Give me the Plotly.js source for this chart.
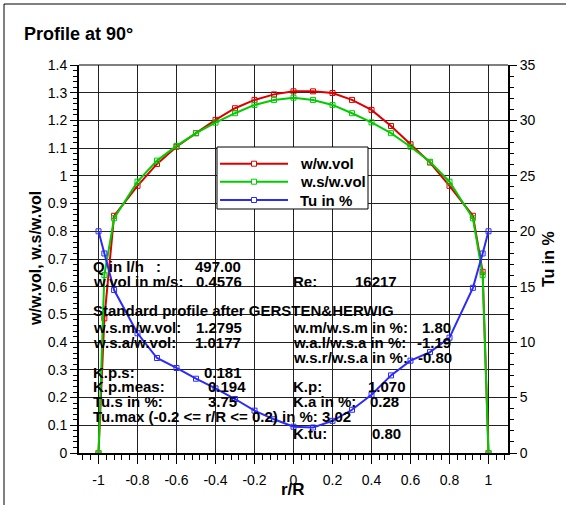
<!DOCTYPE html>
<html>
<head>
<meta charset="utf-8">
<script src="https://cdn.plot.ly/plotly-3.0.1.min.js"></script>
<style>html,body{margin:0;padding:0;background:#fff;}#chart{width:566px;height:505px;}</style>
</head>
<body>
<div id="chart"></div>
<script>
// ---- data ----
const rR = [-1, -0.97, -0.92, -0.8, -0.7, -0.6, -0.5, -0.4, -0.3, -0.2, -0.1, 0, 0.1, 0.2, 0.3, 0.4, 0.5, 0.6, 0.7, 0.8, 0.92, 0.97, 1];
const wOverWvol = [0, 0.486, 0.856, 0.964, 1.043, 1.105, 1.154, 1.202, 1.244, 1.274, 1.294, 1.305, 1.305, 1.299, 1.274, 1.238, 1.180, 1.114, 1.048, 0.964, 0.856, 0.654, 0];
const wsOverWvol = [0, 0.642, 0.847, 0.979, 1.055, 1.108, 1.154, 1.192, 1.226, 1.256, 1.274, 1.282, 1.274, 1.256, 1.226, 1.193, 1.154, 1.105, 1.051, 0.979, 0.847, 0.642, 0];
const tuPercent = [20.0, 18.0, 14.7, 10.8, 8.57, 7.67, 6.7, 5.83, 4.87, 3.82, 3.04, 2.37, 2.3, 2.9, 3.9, 5.26, 7.0, 8.33, 9.1, 10.4, 14.9, 18.0, 20.0];
const seriesNames = ["w/w.vol", "w.s/w.vol", "Tu in %"];
const seriesColors = ["#dd0000", "#00cc00", "#2a2aff"];
const xTickVals = [-1, -0.8, -0.6, -0.4, -0.2, 0, 0.2, 0.4, 0.6, 0.8, 1];
const xTickText = ["-1", "-0.8", "-0.6", "-0.4", "-0.2", "0", "0.2", "0.4", "0.6", "0.8", "1"];
const textLabels = [
  "Q in l/h", ":", "w.vol in m/s:", "Re:", "Standard profile after GERSTEN&HERWIG",
  "w.s.m/w.vol:", "w.m/w.s.m in %:", "w.s.a/w.vol:", "w.a.l/w.s.a in %:", "w.s.r/w.s.a in %:",
  "K.p.s:", "K.p.meas:", "K.p:", "Tu.s in %:", "K.a in %:", "Tu.max (-0.2 <= r/R <= 0.2) in %: 3.02", "K.tu:"
];
const textValues = ["497.00", "0.4576", "16217", "1.2795", "1.80", "1.0177", "-1.19", "-0.80",
  "0.181", "0.194", "1.070", "3.75", "0.28", "0.80"];

// ---- layout geometry (pixels of the 566x505 picture) ----
const L = 79, R = 508, T = 65, B = 453;
const px = v => (v - L) / (R - L);
const py = v => (B - v) / (B - T);
const FONT = "Liberation Sans, Arial, Helvetica, sans-serif";

const labelPos = [
  [91.7, 266.7], [155, 266.7], [91.7, 281.7], [291.7, 281.7], [91.7, 310],
  [91.7, 327.7], [291.7, 327.7], [91.7, 342.3], [291.7, 342.3], [291.7, 357.3],
  [91.7, 372.7], [91.7, 386.7], [291.7, 386.7], [91.7, 401.7], [291.7, 401.7], [91.7, 416.7], [291.7, 433.3]
];
const valuePos = [
  [242, 266.7], [243, 281.7], [398, 281.7], [243, 327.7], [451.7, 327.7], [242, 342.3], [451.7, 342.3], [453, 357.3],
  [243, 372.7], [246.7, 386.7], [406.7, 386.7], [238, 401.7], [400, 401.7], [401.7, 433.3]
];

const annFont = {family: FONT, size: 15, color: "#000", weight: "bold"};
const annotations = [];
textLabels.forEach((t, i) => annotations.push({
  text: t, xref: "paper", yref: "paper", x: px(labelPos[i][0]), y: py(labelPos[i][1]),
  xanchor: "left", yanchor: "middle", showarrow: false, font: annFont, borderpad: 0
}));
textValues.forEach((t, i) => annotations.push({
  text: t, xref: "paper", yref: "paper", x: px(valuePos[i][0]), y: py(valuePos[i][1]),
  xanchor: "right", yanchor: "middle", showarrow: false, font: annFont, borderpad: 0
}));
// axis titles
annotations.push({text: "w/w.vol, w.s/w.vol", xref: "paper", yref: "paper", x: px(35), y: 0.5,
  textangle: -90, xanchor: "center", yanchor: "middle", showarrow: false,
  font: {family: FONT, size: 16, color: "#000", weight: "bold"}});
annotations.push({text: "Tu in %", xref: "paper", yref: "paper", x: px(548), y: 0.5,
  textangle: -90, xanchor: "center", yanchor: "middle", showarrow: false,
  font: {family: FONT, size: 16, color: "#000", weight: "bold"}});
annotations.push({text: "r/R", xref: "paper", yref: "paper", x: px(292.5), y: py(489),
  xanchor: "center", yanchor: "middle", showarrow: false, borderpad: 0,
  font: {family: FONT, size: 17, color: "#000", weight: "bold"}});
annotations.push({text: "Profile at 90°", xref: "paper", yref: "paper", x: px(21.7), y: py(34.3),
  xanchor: "left", yanchor: "middle", showarrow: false,
  font: {family: FONT, size: 18, color: "#000", weight: "bold"}});

// ---- legend box (drawn as a key, not data) ----
const legBox = {x0: 217, x1: 368, y0: 147, y1: 209};
const legRowsY = [163.7, 181.7, 200];
const shapes = [
  {type: "rect", xref: "paper", yref: "paper", x0: px(legBox.x0), x1: px(legBox.x1), y0: py(legBox.y0), y1: py(legBox.y1),
    line: {color: "#000", width: 1}, fillcolor: "#fff", layer: "above"}
];
seriesNames.forEach((n, i) => {
  shapes.push({type: "line", xref: "paper", yref: "paper", x0: px(220), x1: px(288), y0: py(legRowsY[i]), y1: py(legRowsY[i]),
    line: {color: seriesColors[i], width: 2}, layer: "above"});
  shapes.push({type: "rect", xref: "paper", yref: "paper", xsizemode: "pixel", ysizemode: "pixel",
    xanchor: px(254), yanchor: py(legRowsY[i]), x0: -2.5, x1: 2.5, y0: -2.5, y1: 2.5,
    line: {color: seriesColors[i], width: 1}, fillcolor: "#fff", layer: "above"});
  annotations.push({text: n, xref: "paper", yref: "paper", x: px(299), y: py(legRowsY[i]),
    xanchor: "left", yanchor: "middle", showarrow: false, font: annFont, borderpad: 0});
});
// outer frame (top & left) and top plot border
shapes.push({type: "line", xref: "paper", yref: "paper", x0: px(4), x1: px(566), y0: py(4), y1: py(4), line: {color: "#000", width: 1}});
shapes.push({type: "line", xref: "paper", yref: "paper", x0: px(4), x1: px(4), y0: py(4), y1: py(505), line: {color: "#000", width: 1}});
shapes.push({type: "line", xref: "paper", yref: "paper", x0: 0, x1: 1, y0: 1, y1: 1, line: {color: "#000", width: 1}});

const mk = (c) => ({symbol: "square-open", size: 5, color: c, line: {color: c, width: 1}});
const traces = seriesNames.map((n, i) => ({
  x: rR, y: [wOverWvol, wsOverWvol, tuPercent][i], name: n, mode: "lines+markers",
  line: {color: seriesColors[i], width: 2}, marker: mk(seriesColors[i]), yaxis: i === 2 ? "y2" : "y"
}));

const tickFont = {family: FONT, size: 14, color: "#000"};
const layout = {
  width: 566, height: 505,
  margin: {l: L, r: 566 - R, t: T, b: 505 - B, pad: 0},
  paper_bgcolor: "#fff", plot_bgcolor: "#fff",
  showlegend: false,
  xaxis: {range: [-1.1, 1.1], tickmode: "array", tickvals: xTickVals, ticktext: xTickText,
    ticks: "outside", ticklen: 9, tickwidth: 1, tickcolor: "#000", ticklabelstandoff: 4,
    minor: {dtick: 0.04, tick0: 0, ticks: "outside", ticklen: 5, tickcolor: "#000", showgrid: false},
    showgrid: true, gridcolor: "#222", gridwidth: 1, zeroline: false,
    showline: true, linecolor: "#000", linewidth: 2, tickfont: tickFont},
  yaxis: {range: [0, 1.4], dtick: 0.1, tick0: 0, ticks: "outside", ticklen: 7, tickwidth: 1, tickcolor: "#000",
    minor: {dtick: 0.02, tick0: 0, ticks: "outside", ticklen: 4, tickcolor: "#000", showgrid: false},
    showgrid: true, gridcolor: "#222", gridwidth: 1, zeroline: false,
    showline: true, linecolor: "#000", linewidth: 2, tickfont: tickFont},
  yaxis2: {range: [0, 35], dtick: 5, tick0: 0, overlaying: "y", side: "right",
    ticks: "outside", ticklen: 7, tickwidth: 1, tickcolor: "#000",
    minor: {dtick: 1, tick0: 0, ticks: "outside", ticklen: 4, tickcolor: "#000", showgrid: false},
    showgrid: false, zeroline: false, showline: true, linecolor: "#000", linewidth: 2, tickfont: tickFont},
  annotations: annotations,
  shapes: shapes
};
Plotly.newPlot("chart", traces, layout, {staticPlot: true, displayModeBar: false});
</script>
</body>
</html>
